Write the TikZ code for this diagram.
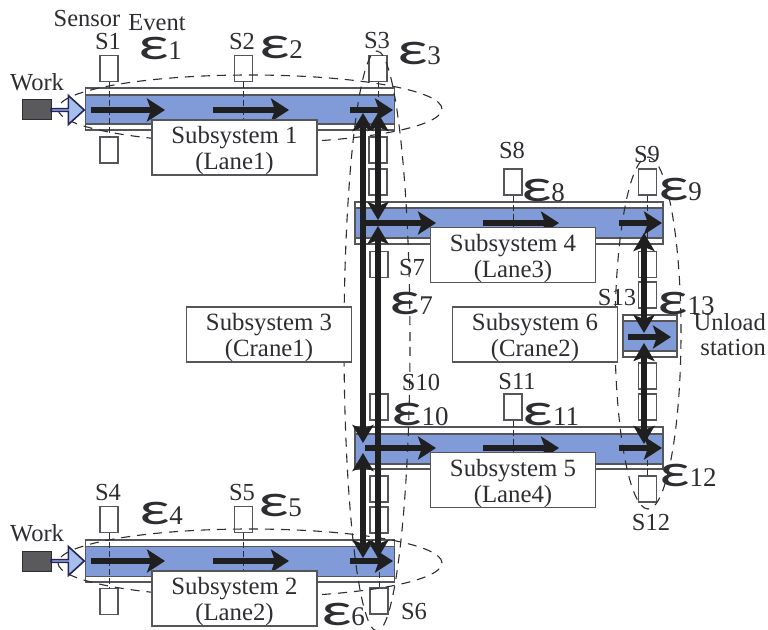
\documentclass[tikz,border=0pt]{standalone}
\usepackage{fontspec}
\usepackage{graphicx}
\usepackage{tikz}
\usetikzlibrary{shapes.geometric, shapes.arrows, arrows.meta, positioning, calc}
\setmainfont{Liberation Serif}
\newfontfamily\epsfont{Carlito}
\definecolor{myink}{RGB}{45,45,50}
\definecolor{myframe}{RGB}{85,85,90}
\definecolor{mybelt}{RGB}{128,155,215}
\definecolor{myfeed}{RGB}{165,190,235}
\definecolor{mywork}{RGB}{90,90,92}
\newcommand{\evt}[1]{{\epsfont\fontsize{46}{46}\selectfont\scalebox{1.45}[1]{ε}}\fontsize{27}{27}\selectfont #1}
\newcommand{\tall}{\rule{0pt}{24pt}}
\tikzset{
  lanebox/.style={rectangle, draw=myframe, fill=white, inner sep=0pt, line width=1.4pt},
  belt/.style={rectangle, draw=myframe, fill=mybelt, inner sep=0pt, line width=1.4pt},
  sensor/.style={rectangle, draw=myframe, fill=white, inner sep=0pt,
    minimum width=18pt, minimum height=26pt, line width=1.1pt},
  subsys/.style={rectangle, draw=myframe, fill=white, inner sep=0pt, align=center,
    minimum width=165pt, minimum height=53pt, line width=1.4pt, text=myink,
    font=\fontsize{24.8}{26}\selectfont},
  zone/.style={ellipse, draw=myink, inner sep=0pt, line width=1.1pt, dash pattern=on 9pt off 7pt},
  label/.style={inner sep=0pt, text=myink, font=\fontsize{24.5}{25}\selectfont},
  evtlabel/.style={inner sep=0pt, text=myink},
  tick/.style={draw=myink, line width=0.8pt, dash pattern=on 6pt off 3pt},
  flow/.style={-{Stealth[length=18pt, width=23pt, inset=4pt]}, line width=6pt, color=black!88},
  shuttle/.style={{Stealth[length=18pt, width=21pt, inset=4pt]}-{Stealth[length=18pt, width=21pt, inset=4pt]},
    line width=6pt, color=black!88},
  workbox/.style={rectangle, draw=myink, fill=mywork, inner sep=0pt,
    minimum width=29pt, minimum height=20pt, line width=0.8pt},
  feed/.style={single arrow, draw=myink!80!blue, fill=myfeed, inner sep=0pt, line width=1.6pt,
    minimum height=33pt, minimum width=29pt, single arrow head extend=8pt, single arrow tip angle=85,
    shape border rotate=0}
}
\begin{document}
\begin{tikzpicture}[x=1pt, y=-1pt]
  \useasboundingbox (0,0) rectangle (768,629);

  % Lanes
  \node[lanebox, minimum width=309pt, minimum height=42pt] (lane1) at (240,109) {};
  \node[belt, minimum width=309pt, minimum height=29pt] (belt1) at (240,109.5) {};
  \node[lanebox, minimum width=309pt, minimum height=42pt] (lane2) at (240,561) {};
  \node[belt, minimum width=309pt, minimum height=30pt] (belt2) at (240,561.5) {};
  \node[lanebox, minimum width=308pt, minimum height=42pt] (lane3) at (509,223) {};
  \node[belt, minimum width=308pt, minimum height=30pt] (belt3) at (509,223) {};
  \node[lanebox, minimum width=308pt, minimum height=42pt] (lane4) at (509,448) {};
  \node[belt, minimum width=308pt, minimum height=30pt] (belt4) at (509,449) {};
  \node[lanebox, minimum width=54pt, minimum height=42pt] (lane5) at (650,336) {};
  \node[belt, minimum width=54pt, minimum height=30pt] (belt5) at (650,336) {};

  % Sensors
  \node[sensor] (S1) at (109,68.5) {};
  \node[sensor] (S1b) at (109,150) {};
  \node[sensor] (S2) at (243.5,68.5) {};
  \node[sensor] (S3) at (378,68.5) {};
  \node[sensor] (C1a) at (378,150) {};
  \node[sensor] (C1b) at (378,182) {};
  \node[sensor] (S7) at (379,264.5) {};
  \node[sensor] (S10) at (379,407) {};
  \node[sensor] (C2a) at (379,489) {};
  \node[sensor] (C2b) at (379,520) {};
  \node[sensor] (S4) at (109,519.5) {};
  \node[sensor] (S4b) at (109,601.5) {};
  \node[sensor] (S5) at (243.5,519.5) {};
  \node[sensor] (S6) at (379,601) {};
  \node[sensor] (S8) at (513,182) {};
  \node[sensor] (S11) at (513,407) {};
  \node[sensor] (S9) at (647.5,182) {};
  \node[sensor] (D1a) at (647.5,264.5) {};
  \node[sensor] (S13) at (647.5,295) {};
  \node[sensor] (D2a) at (647.5,376) {};
  \node[sensor] (D2b) at (647.5,407) {};
  \node[sensor] (S12) at (647.5,489) {};

  % Sensor lines
  \draw[tick] (S1.south) -- (S1b.north);
  \draw[tick] (S2.south) -- (S2.south |- belt1.south);
  \draw[tick] (S3.south) -- (C1a.north);
  \draw[tick] (S4.south) -- (S4b.north);
  \draw[tick] (S5.south) -- (S5.south |- belt2.south);
  \draw[tick] (S6.north) -- (S6.north |- belt2.north);
  \draw[tick] (S8.south) -- (S8.south |- belt3.south);
  \draw[tick] (S9.south) -- (S9.south |- belt3.south);
  \draw[tick] (S11.south) -- (S11.south |- belt4.south);
  \draw[tick] (S12.north) -- (S12.north |- belt4.north);

  % Event zones
  \node[zone, minimum width=384pt, minimum height=68pt] (Z1) at (250,109) {};
  \node[zone, minimum width=384pt, minimum height=68pt] (Z2) at (250,563) {};
  \node[zone, minimum width=66pt, minimum height=580pt] (Z3) at (377,341) {};
  \node[zone, minimum width=66pt, minimum height=352pt] (Z4) at (648,333) {};

  % Work pieces
  \node[workbox] (W1) at (36.5,109) {};
  \node[feed] (F1) at (67,110) {};
  \node[workbox] (W2) at (36.5,561) {};
  \node[feed] (F2) at (67,561) {};

  % Flow along the lanes
  \coordinate (a1) at (91,110);  \coordinate (a2) at (165,110);
  \coordinate (a3) at (213,110); \coordinate (a4) at (289,110);
  \coordinate (a5) at (350,110); \coordinate (a6) at (393,110);
  \coordinate (b1) at (91,561);  \coordinate (b2) at (165,561);
  \coordinate (b3) at (213,561); \coordinate (b4) at (289,561);
  \coordinate (b5) at (350,561); \coordinate (b6) at (393,561);
  \coordinate (c1) at (365,223); \coordinate (c2) at (436,223);
  \coordinate (c3) at (483,223); \coordinate (c4) at (559,223);
  \coordinate (c5) at (619,223); \coordinate (c6) at (662,223);
  \coordinate (d1) at (365,448); \coordinate (d2) at (436,448);
  \coordinate (d3) at (483,448); \coordinate (d4) at (559,448);
  \coordinate (d5) at (619,448); \coordinate (d6) at (662,448);
  \coordinate (e1) at (628,337); \coordinate (e2) at (671,337);
  \draw[flow] (a1) -- (a2);
  \draw[flow] (a3) -- (a4);
  \draw[flow] (a5) -- (a6);
  \draw[flow] (b1) -- (b2);
  \draw[flow] (b3) -- (b4);
  \draw[flow] (b5) -- (b6);
  \draw[flow] (c1) -- (c2);
  \draw[flow] (c3) -- (c4);
  \draw[flow] (c5) -- (c6);
  \draw[flow] (d1) -- (d2);
  \draw[flow] (d3) -- (d4);
  \draw[flow] (d5) -- (d6);
  \draw[flow] (e1) -- (e2);

  % Crane moves
  \coordinate (p1) at (363,113); \coordinate (p2) at (363,443);
  \coordinate (p3) at (363,453); \coordinate (p4) at (363,558);
  \coordinate (q1) at (378,113); \coordinate (q2) at (378,220);
  \coordinate (q3) at (378,226); \coordinate (q4) at (378,558);
  \coordinate (r1) at (644,233); \coordinate (r2) at (644,333);
  \coordinate (r3) at (644,343); \coordinate (r4) at (644,444);
  \draw[shuttle] (p1) -- (p2);
  \draw[shuttle] (p3) -- (p4);
  \draw[shuttle] (q1) -- (q2);
  \draw[shuttle] (q3) -- (q4);
  \draw[shuttle] (r1) -- (r2);
  \draw[shuttle] (r3) -- (r4);

  % Subsystem boxes
  \node[subsys] (sub1) at (234.5,147.5) {\tall Subsystem 1\\(Lane1)};
  \node[subsys] (sub2) at (234.5,598.5) {\tall Subsystem 2\\(Lane2)};
  \node[subsys] (sub3) at (269,334.5) {\tall Subsystem 3\\(Crane1)};
  \node[subsys] (sub4) at (513,255) {\tall Subsystem 4\\(Lane3)};
  \node[subsys] (sub5) at (513,480) {\tall Subsystem 5\\(Lane4)};
  \node[subsys] (sub6) at (535,334.5) {\tall Subsystem 6\\(Crane2)};

  % Texts
  \node[label] (tsensor) at (87,19) {Sensor};
  \node[label] (tevent) at (157,23) {Event};
  \node[label] (twork1) at (37,82) {Work};
  \node[label] (twork2) at (37,533) {Work};
  \node[label, align=right, anchor=east] (tunload) at (766,335) {Unload\\station};
  \node[label] (tS1) at (108,42) {S1};
  \node[label] (tS2) at (242,42) {S2};
  \node[label] (tS3) at (377,41) {S3};
  \node[label] (tS4) at (108,493) {S4};
  \node[label] (tS5) at (242,493) {S5};
  \node[label] (tS6) at (414,611) {S6};
  \node[label] (tS7) at (412,268) {S7};
  \node[label] (tS8) at (512,150) {S8};
  \node[label] (tS9) at (647,155) {S9};
  \node[label] (tS10) at (421,382) {S10};
  \node[label] (tS11) at (517,382) {S11};
  \node[label] (tS12) at (651,523) {S12};
  \node[label] (tS13) at (617,298) {S13};

  % Event labels
  \node[evtlabel] (E1) at (160,48) {\evt{1}};
  \node[evtlabel] (E2) at (281,47) {\evt{2}};
  \node[evtlabel] (E3) at (419,53) {\evt{3}};
  \node[evtlabel] (E4) at (161,513) {\evt{4}};
  \node[evtlabel] (E5) at (280,505) {\evt{5}};
  \node[evtlabel] (E6) at (343,614) {\evt{6}};
  \node[evtlabel] (E7) at (411,303) {\evt{7}};
  \node[evtlabel] (E8) at (543,190) {\evt{8}};
  \node[evtlabel] (E9) at (680,189) {\evt{9}};
  \node[evtlabel] (E10) at (420,414) {\evt{10}};
  \node[evtlabel] (E11) at (551,414) {\evt{11}};
  \node[evtlabel] (E12) at (688,475) {\evt{12}};
  \node[evtlabel] (E13) at (686,303) {\evt{13}};
\end{tikzpicture}
\end{document}
